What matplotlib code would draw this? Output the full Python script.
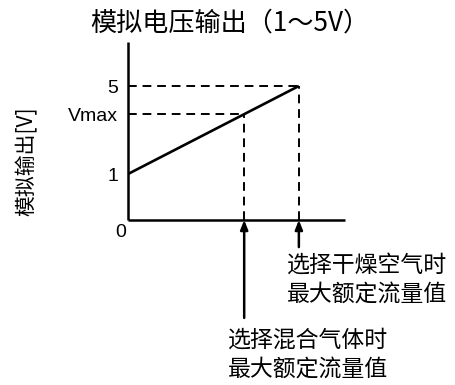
import matplotlib
matplotlib.use("Agg")
import matplotlib.pyplot as plt

# ── Data (schematic: flow in % of full scale, output in V) ────────────────────
FLOW = [0, 100]
VOUT = [1, 5]

DRY_FLOW = 100      # max rated flow, dry air
MIX_FLOW = 68       # max rated flow, gas mixture
VMAX = 3.72

Y_TICKS = [1, VMAX, 5]
Y_LABELS = ["1", "Vmax", "5"]

TITLE = "模拟电压输出（1～5V）"
YLABEL = "模拟输出[V]"
DRY_TEXT = "选择干燥空气时\n最大额定流量值"
MIX_TEXT = "选择混合气体时\n最大额定流量值"

CJK = ["Noto Sans CJK SC", "DejaVu Sans"]
NARROW = ["Liberation Sans Narrow", "Liberation Sans", "DejaVu Sans"]
plt.rcParams["font.family"] = CJK

X_MIN, X_MAX = 0, 127
Y_MIN, Y_MAX = -1.09, 7.0
DASH = (0, (4.5, 3))

# ── Layout ────────────────────────────────────────────────────────────────────
fig = plt.figure(figsize=(4.55, 3.85), dpi=100)
fig.patch.set_facecolor("white")
ax = fig.add_axes([128 / 455, 1 - 220 / 385, 217 / 455, 178 / 385])
ax.set_xlim(X_MIN, X_MAX)
ax.set_ylim(Y_MIN, Y_MAX)
ax.spines[["top", "right"]].set_visible(False)
for s in ("left", "bottom"):
    ax.spines[s].set_linewidth(1.8)
    ax.spines[s].set_capstyle("butt")

# main characteristic
ax.plot(FLOW, VOUT, color="black", linewidth=1.9, solid_capstyle="butt")

# dashed guides
ax.hlines([VOUT[1], VMAX], X_MIN, [DRY_FLOW, MIX_FLOW], colors="black",
          linewidth=1.4, linestyles=DASH)
ax.vlines([DRY_FLOW, MIX_FLOW], Y_MIN, [VOUT[1], VMAX], colors="black",
          linewidth=1.4, linestyles=DASH)

# ticks as labels only
ax.set_xticks([])
ax.set_yticks(Y_TICKS)
ax.set_yticklabels(Y_LABELS, family=NARROW, fontsize=14)
ax.tick_params(axis="y", length=0, pad=7)
ax.annotate("0", xy=(0, Y_MIN), xytext=(-1, -3), textcoords="offset points",
            ha="right", va="top", fontsize=14, family=NARROW,
            annotation_clip=False)

# arrows from below
arrow = dict(arrowstyle="-|>,head_length=0.55,head_width=0.22",
             color="black", linewidth=1.8, shrinkA=0, shrinkB=0)
ax.annotate("", xy=(MIX_FLOW, Y_MIN), xytext=(0, -70.5),
            textcoords="offset points", arrowprops=arrow,
            annotation_clip=False)
ax.annotate("", xy=(DRY_FLOW, Y_MIN), xytext=(0, -19.5),
            textcoords="offset points", arrowprops=arrow,
            annotation_clip=False)

ax.annotate(DRY_TEXT, xy=(DRY_FLOW, Y_MIN), xytext=(-8.5, -24),
            textcoords="offset points", ha="left", va="top",
            fontsize=16.5, linespacing=1.35, annotation_clip=False)
ax.annotate(MIX_TEXT, xy=(MIX_FLOW, Y_MIN), xytext=(-12, -78),
            textcoords="offset points", ha="left", va="top",
            fontsize=16.5, linespacing=1.35, annotation_clip=False)

# titles
fig.text(230 / 455, 1 - 23 / 385, TITLE, ha="center", va="center",
         fontsize=18.8)
fig.text(27 / 455, 1 - 161 / 385, YLABEL, ha="center", va="center",
         rotation=90, fontsize=15)

fig.savefig("out.png", dpi=100, facecolor="white")
